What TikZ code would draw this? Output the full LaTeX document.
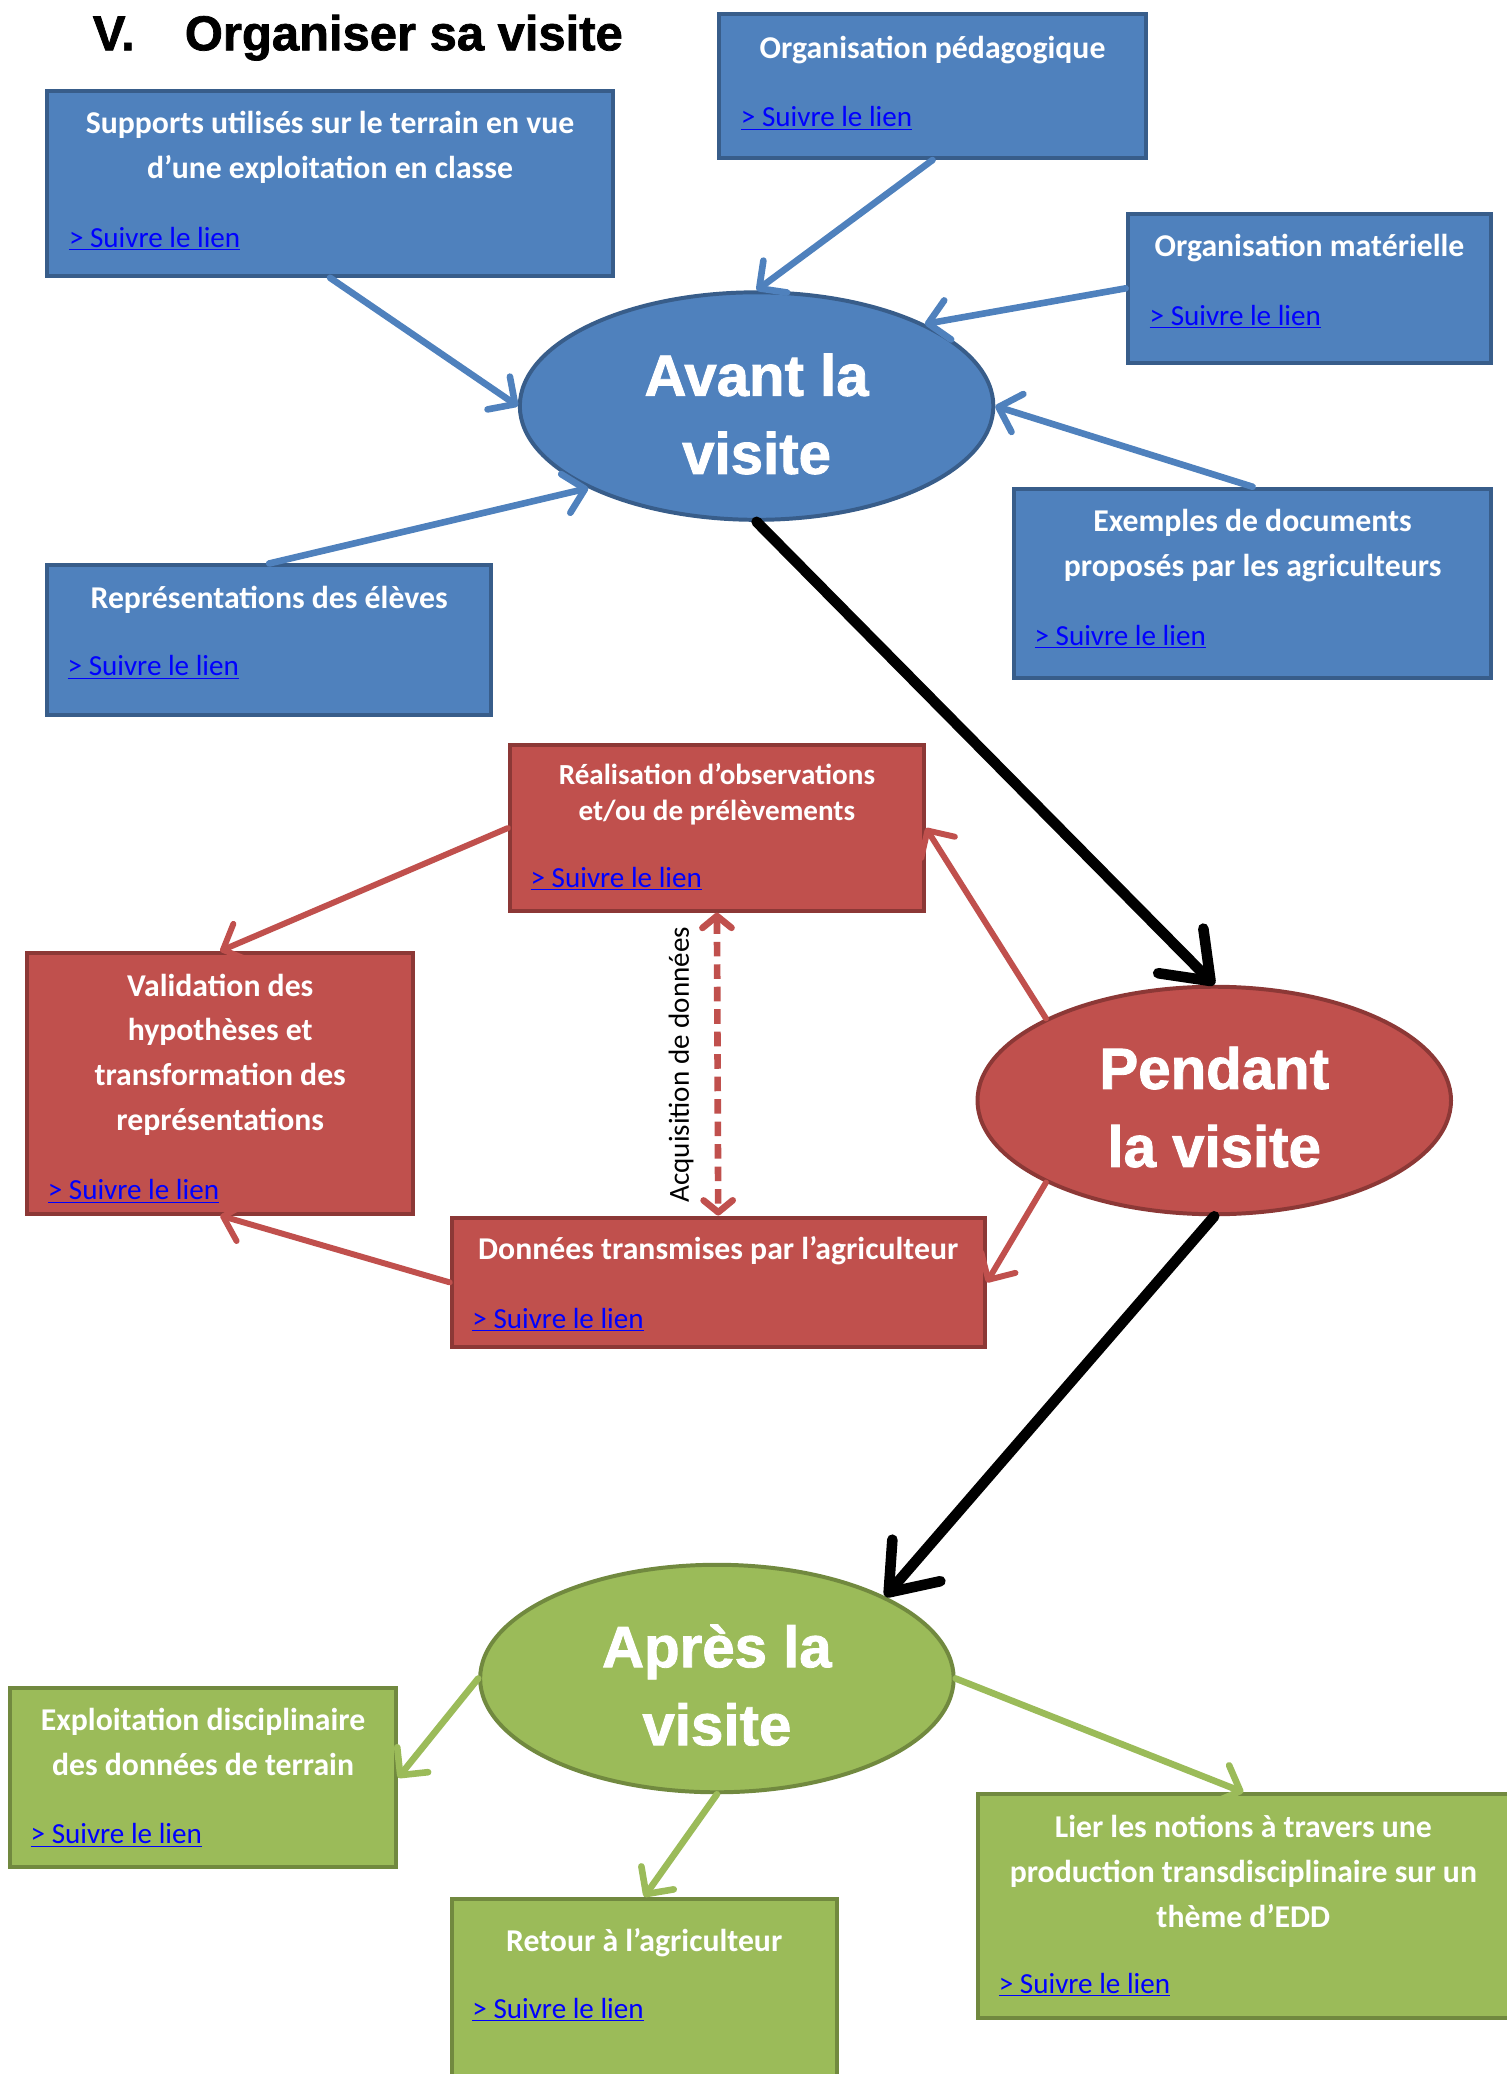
\documentclass[tikz,border=0pt]{standalone}
\usepackage{fontspec}
\setmainfont{Carlito}
\newfontfamily\headfont[FakeBold=1.5]{Liberation Sans Bold}
\usetikzlibrary{arrows.meta,shapes.geometric}

\definecolor{bfill}{HTML}{4F81BD}
\definecolor{bline}{HTML}{385D8A}
\definecolor{rfill}{HTML}{C0504D}
\definecolor{rline}{HTML}{8C3836}
\definecolor{gfill}{HTML}{9BBB59}
\definecolor{gline}{HTML}{71893F}
\definecolor{linkblue}{HTML}{0000FF}

% centred block of lines whose baseline is that of the first line
\newcommand{\textlines}[1]{\begin{tabular}[t]{@{}c@{}}#1\end{tabular}}
\newcommand{\follow}{\underline{> Suivre le lien}}

\tikzset{
  card/.style={rectangle, line width=3pt, inner sep=0pt},
  bluecard/.style={card, draw=bline, fill=bfill},
  redcard/.style={card, draw=rline, fill=rfill},
  greencard/.style={card, draw=gline, fill=gfill},
  phase/.style={ellipse, line width=3pt, inner sep=0pt,
    minimum width=358pt, minimum height=172pt},
  phasetext/.style={text=white, align=center, inner sep=0pt,
    font=\headfont\fontsize{44}{59}\selectfont},
  cardtext/.style={text=white, inner sep=0pt, anchor=base,
    font=\bfseries\fontsize{24}{34}\selectfont},
  smallcardtext/.style={cardtext, font=\bfseries\fontsize{22}{27}\selectfont},
  linktext/.style={text=linkblue, inner sep=0pt, anchor=base west,
    font=\fontsize{22}{26}\selectfont},
  bluearrow/.style={draw=bfill, line width=5pt, line cap=round,
    -{Straight Barb[length=15pt,width=30pt,round]}},
  redarrow/.style={draw=rfill, line width=4.5pt, line cap=round,
    -{Straight Barb[length=15pt,width=30pt,round]}},
  greenarrow/.style={draw=gfill, line width=5pt, line cap=round,
    -{Straight Barb[length=15pt,width=30pt,round]}},
  blackarrow/.style={draw=black, line width=8pt, line cap=round,
    -{Straight Barb[length=32pt,width=48pt,round]}},
  reddashed/.style={draw=rfill, line width=5pt, dash pattern=on 11pt off 6pt,
    {Straight Barb[length=9pt,width=22pt,round]}-{Straight Barb[length=9pt,width=22pt,round]}},
}

\begin{document}
\begin{tikzpicture}[x=1pt,y=-1pt]
\useasboundingbox (0,0) rectangle (1139,1568);

% heading
\node[anchor=base west, inner sep=0pt, font=\headfont\fontsize{37}{40}\selectfont]
  (title) at (70,38) {V.\hspace{38pt}Organiser sa visite};

% ---------- before the visit ----------
\node[bluecard, minimum width=428pt, minimum height=140pt] (sup) at (249.5,138.5) {};
\node[cardtext] (supT) at (249.5,101) {\textlines{Supports utilisés sur le terrain en vue\\d’une exploitation en classe}};
\node[linktext] (supL) at (52,187) {\follow};

\node[bluecard, minimum width=323pt, minimum height=109pt] (ped) at (705,65) {};
\node[cardtext] (pedT) at (705,44) {Organisation pédagogique};
\node[linktext] (pedL) at (560,96) {\follow};

\node[bluecard, minimum width=275pt, minimum height=113pt] (mat) at (990,218) {};
\node[cardtext] (matT) at (990,194) {Organisation matérielle};
\node[linktext] (matL) at (869,246) {\follow};

\node[bluecard, minimum width=361pt, minimum height=143pt] (exe) at (947,441) {};
\node[cardtext] (exeT) at (947,402) {\textlines{Exemples de documents\\proposés par les agriculteurs}};
\node[linktext] (exeL) at (782,488) {\follow};

\node[bluecard, minimum width=336pt, minimum height=113pt] (rep) at (203.5,484) {};
\node[cardtext] (repT) at (203.5,460) {Représentations des élèves};
\node[linktext] (repL) at (51,511) {\follow};

\node[phase, draw=bline, fill=bfill] (avant) at (572,307) {};
\node[phasetext] (avantT) at (572,313) {Avant la\\visite};

\draw[bluearrow] (sup.south) -- (avant.west);
\draw[bluearrow] (ped.south) -- (avant.north);
\draw[bluearrow] (mat.west) -- (avant.26);
\draw[bluearrow] (exe.north) -- (avant.east);
\draw[bluearrow] (rep.north) -- (avant.206);

% ---------- during the visit ----------
\node[redcard, minimum width=313pt, minimum height=125pt] (real) at (542,626) {};
\node[smallcardtext] (realT) at (542,593) {\textlines{Réalisation d’observations\\et/ou de prélèvements}};
\node[linktext] (realL) at (401,671) {\follow};

\node[redcard, minimum width=292pt, minimum height=197pt] (val) at (166.5,819) {};
\node[cardtext] (valT) at (166.5,753) {\textlines{Validation des\\hypothèses et\\transformation des\\représentations}};
\node[linktext] (valL) at (36,907) {\follow};

\node[redcard, minimum width=403pt, minimum height=98pt] (don) at (543,969.5) {};
\node[cardtext] (donT) at (543,952) {Données transmises par l’agriculteur};
\node[linktext] (donL) at (357,1004) {\follow};

\node[phase, draw=rline, fill=rfill] (pendant) at (918,832) {};
\node[phasetext] (pendantT) at (918,837) {Pendant\\la visite};

\draw[redarrow] (pendant.154) -- (real.east);
\draw[redarrow] (pendant.206) -- (don.east);
\draw[redarrow] (real.west) -- (val.north);
\draw[redarrow] (don.west) -- (val.south);
\draw[reddashed] (real.south) -- (don.north);
\node[rotate=90, inner sep=0pt, font=\fontsize{22}{26}\selectfont] (acq) at (515,805) {Acquisition de données};

% ---------- after the visit ----------
\node[greencard, minimum width=292pt, minimum height=135pt] (gexp) at (153.5,1344) {};
\node[cardtext] (gexpT) at (153.5,1308) {\textlines{Exploitation disciplinaire\\des données de terrain}};
\node[linktext] (gexpL) at (23,1394) {\follow};

\node[greencard, minimum width=291pt, minimum height=153pt] (gret) at (487,1512) {};
\node[cardtext] (gretT) at (487,1475) {Retour à l’agriculteur};
\node[linktext] (gretL) at (357,1526) {\follow};

\node[greencard, minimum width=401pt, minimum height=169pt] (glier) at (940,1441) {};
\node[cardtext] (glierT) at (940,1389) {\textlines{Lier les notions à travers une\\production transdisciplinaire sur un\\thème d’EDD}};
\node[linktext] (glierL) at (755,1507) {\follow};

\node[phase, draw=gline, fill=gfill] (apres) at (542,1269) {};
\node[phasetext] (apresT) at (542,1274) {Après la\\visite};

\draw[greenarrow] (apres.west) -- (gexp.east);
\draw[greenarrow] (apres.south) -- (gret.north);
\draw[greenarrow] (apres.east) -- (glier.north);

% ---------- sequence of the three phases ----------
\draw[blackarrow] (avant.south) -- (pendant.north);
\draw[blackarrow] (pendant.south) -- (apres.26);
\end{tikzpicture}
\end{document}
